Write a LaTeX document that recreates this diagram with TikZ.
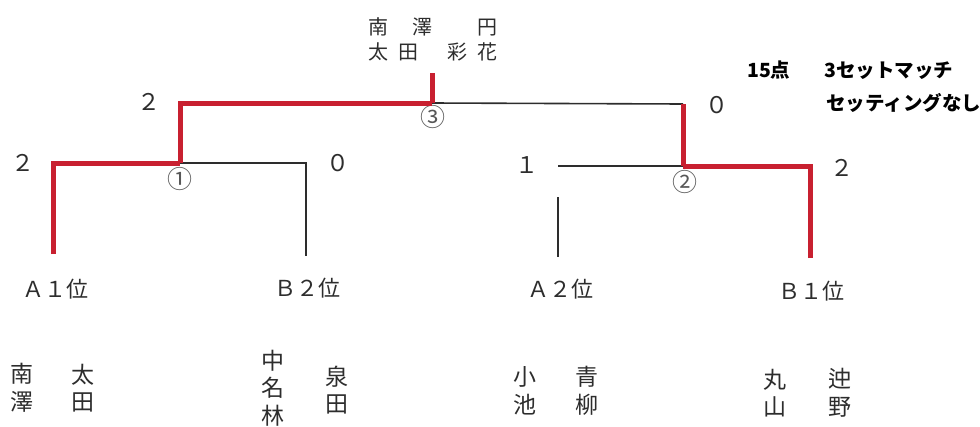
\documentclass[tikz,border=0pt]{standalone}
\usepackage{fontspec}
\setmainfont{Noto Sans CJK JP}
\usepackage{tikz}

\definecolor{winred}{RGB}{200,32,48}
\definecolor{lossgray}{RGB}{45,45,45}
\tikzset{
  win/.style={line width=5pt,winred},
  loss/.style={line width=1.6pt,lossgray},
  score/.style={text=lossgray,font=\fontsize{23}{23}\selectfont,inner sep=0pt},
  seed/.style={text=lossgray,font=\fontsize{22}{22}\selectfont,inner sep=0pt},
  match/.style={text=lossgray!80,font=\fontsize{25}{25}\selectfont,inner sep=0pt},
  namecol/.style={text=lossgray,align=center,font=\fontsize{23}{27.5}\selectfont,inner sep=0pt},
  toprow/.style={text=lossgray,anchor=west,font=\fontsize{20}{20}\selectfont,inner sep=0pt},
  note/.style={text=black,anchor=west,font=\fontsize{19.5}{19.5}\selectfont\bfseries,inner sep=0pt}
}

\begin{document}
\begin{tikzpicture}[x=1pt,y=-1pt]
\useasboundingbox (0,0) rectangle (980,426);
% bracket corners
\coordinate (a1) at (53,254);
\coordinate (b2) at (306,256);
\coordinate (a2) at (558,257);
\coordinate (a2t) at (558,197);
\coordinate (b1) at (810,258);
\coordinate (m1) at (180,163);
\coordinate (m2) at (683,166);
\coordinate (m2l) at (558,166);
\coordinate (m3) at (432,103);
\coordinate (m3r) at (683,104);
\coordinate (top) at (432,73);
% seeds
\node[seed] (sa1) at (55,289) {Ａ１位};
\node[seed] (sb2) at (307,288) {Ｂ２位};
\node[seed] (sa2) at (560,289) {Ａ２位};
\node[seed] (sb1) at (811,291) {Ｂ１位};
% scores
\node[score] (s1) at (23,163) {２};
\node[score] (s2) at (149,102) {２};
\node[score] (s3) at (338,163) {０};
\node[score] (s4) at (527,165) {１};
\node[score] (s5) at (717,105) {０};
\node[score] (s6) at (842,168) {２};
% match numbers
\node[match] (n1) at (180,179) {①};
\node[match] (n3) at (433,117) {③};
\node[match] (n2) at (685,182) {②};
% lines
\draw[loss] (m1) -| (b2);
\draw[loss] (m3) -- (m3r);
\draw[loss] (m2l) -- (m2);
\draw[loss] (a2t) -- (a2);
\draw[win] (a1) |- (m1);
\draw[win] (m1) |- (m3);
\draw[win] (m3) -- (top);
\draw[win] (b1) |- (m2);
\draw[win] (m2) -- (m3r);
% winner
\node[toprow] (w1) at (368,27) {南\hspace{24pt}澤\hspace{45pt}円};
\node[toprow] (w2) at (368,52) {太\hspace{10pt}田\hspace{29pt}彩\hspace{10pt}花};
% rules
\node[note] (r1) at (747,70) {15点\hspace{34pt}3セットマッチ};
\node[note] (r2) at (826,103) {セッティングなし};
% players
\node[namecol] (p1) at (22,388) {南\\澤};
\node[namecol] (p2) at (83,388) {太\\田};
\node[namecol] (p3) at (273,388) {中\\名\\林};
\node[namecol] (p4) at (337,390) {泉\\田};
\node[namecol] (p5) at (525,391) {小\\池};
\node[namecol] (p6) at (587,391) {青\\柳};
\node[namecol] (p7) at (775,393) {丸\\山};
\node[namecol] (p8) at (840,393) {迚\\野};
\end{tikzpicture}
\end{document}
